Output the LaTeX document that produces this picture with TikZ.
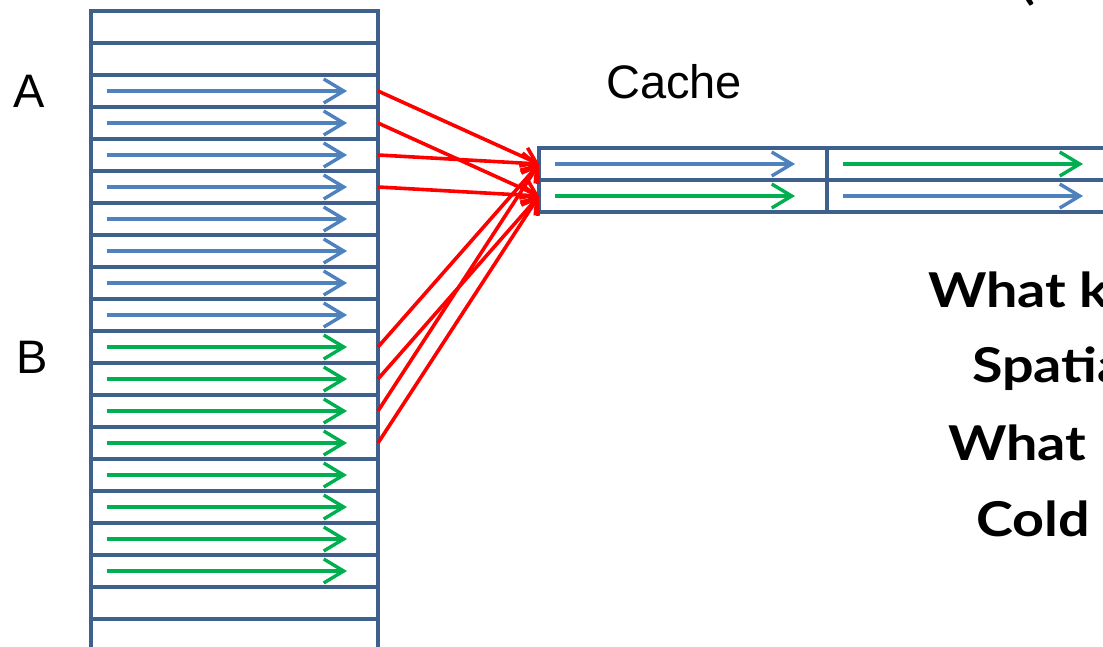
\documentclass[tikz,border=0pt]{standalone}
\usepackage{fontspec}
\setmainfont{Liberation Sans}
\newfontfamily\gillfont[FakeStretch=1.16]{Lato}
\usetikzlibrary{arrows.meta}
\definecolor{boxblue}{HTML}{3F5F8C}
\definecolor{arrblue}{HTML}{4F81BD}
\definecolor{arrgreen}{HTML}{00B050}
\definecolor{arrred}{HTML}{FF0000}
\begin{document}
\begin{tikzpicture}[x=1pt,y=-1pt,
  cell/.style={draw=boxblue, line width=3.6pt, minimum width=287pt, minimum height=32pt, inner sep=0pt, outer sep=0pt},
  ccell/.style={draw=boxblue, line width=3.6pt, minimum width=288pt, minimum height=32pt, inner sep=0pt, outer sep=0pt},
  data/.style={line width=3.4pt, -{Straight Barb[length=20pt,width=24pt]}},
  link/.style={draw=arrred, line width=3.6pt, -{Straight Barb[length=14pt,width=20pt]}},
  lbl/.style={font=\fontsize{47}{56}\selectfont, inner sep=0pt, anchor=base west},
  big/.style={font=\gillfont\bfseries\fontsize{48}{58}\selectfont, inner sep=0pt, anchor=base west}
]
\useasboundingbox (0,0) rectangle (1103,647);
\clip (0,0) rectangle (1103,647);
% memory column
\foreach \i in {0,...,19} {
  \node[cell] (m\i) at (234.5, 27+32*\i) {};
}
\foreach \i in {2,...,9} {
  \draw[data, arrblue] ([xshift=-127.5pt]m\i.center) -- ([xshift=112.5pt]m\i.center);
}
\foreach \i in {10,...,17} {
  \draw[data, arrgreen] ([xshift=-127.5pt]m\i.center) -- ([xshift=112.5pt]m\i.center);
}
% cache
\node[ccell] (c0) at (683,164) {};
\node[ccell] (c1) at (683,196) {};
\node[ccell] (c2) at (971,164) {};
\node[ccell] (c3) at (971,196) {};
\draw[data, arrblue] ([xshift=-128pt]c0.center) -- ([xshift=112pt]c0.center);
\draw[data, arrgreen] ([xshift=-128pt]c1.center) -- ([xshift=112pt]c1.center);
\draw[data, arrgreen] ([xshift=-128pt]c2.center) -- ([xshift=112pt]c2.center);
\draw[data, arrblue] ([xshift=-128pt]c3.center) -- ([xshift=112pt]c3.center);
% mapping
\draw[link] (m2.east) -- (c0.west);
\draw[link] (m3.east) -- (c1.west);
\draw[link] (m4.east) -- (c0.west);
\draw[link] (m5.east) -- (c1.west);
\draw[link] (m10.east) -- (c0.west);
\draw[link] (m11.east) -- (c1.west);
\draw[link] (m12.east) -- (c0.west);
\draw[link] (m13.east) -- (c1.west);
% labels
\node[lbl] (la) at (13,108) {A};
\node[lbl] (lb) at (16,373) {B};
\node[lbl] (lc) at (606,99) {Cache};
\node[big] (t1) at (928,307) {What k};
\node[big] (t2) at (972,382) {Spatia};
\node[big] (t3) at (948,460) {What};
\node[big] (t4) at (976,536) {Cold};
\node[font=\gillfont\fontsize{60}{60}\selectfont, inner sep=0pt, anchor=base] (paren) at (1027,-2) {(};
\end{tikzpicture}
\end{document}
